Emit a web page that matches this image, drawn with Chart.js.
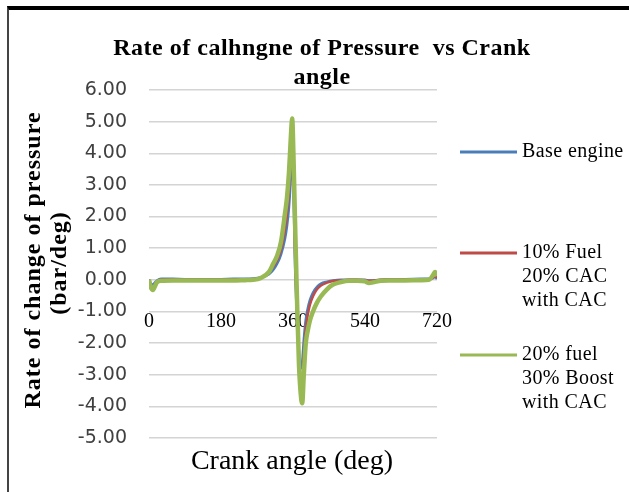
<!DOCTYPE html>
<html>
<head>
<meta charset="utf-8">
<script src="https://cdn.jsdelivr.net/npm/chart.js@4.4.0/dist/chart.umd.min.js"></script>
<style>
  body { margin: 0; background: #fff; }
  #wrap { position: relative; width: 629px; height: 492px; }
  #frame { position: absolute; left: 7px; top: 6px; right: 0; bottom: 0; border-top: 4px solid #000; border-left: 2px solid #444; pointer-events: none; }
</style>
</head>
<body>
<div id="wrap">
  <canvas id="pressureChart" width="629" height="492"></canvas>
  <div id="frame"></div>
</div>
<script>
// crank angle (deg) shared by all three series
const crankAngle = [0, 5, 10, 15, 20, 30, 60, 90, 120, 150, 180, 210, 240, 260, 280, 300, 310, 320, 330, 340,
  345, 350, 355, 358, 361, 365, 370, 375, 380, 383, 387, 392, 397, 402, 410, 420, 430, 445, 460, 480,
  500, 520, 540, 550, 560, 580, 600, 640, 680, 700, 710, 715, 720];

const baseEngine = [0.00, -0.12, -0.15, -0.08, -0.02, 0.03, 0.03, 0.02, 0.02, 0.02,
  0.02, 0.03, 0.03, 0.04, 0.08, 0.18, 0.30, 0.50, 0.80, 1.30,
  1.70, 2.30, 3.30, 4.00, 3.00, 0.50, -1.20, -2.30, -2.80, -2.60,
  -1.90, -1.25, -0.90, -0.65, -0.40, -0.22, -0.12, -0.06, -0.02, 0.00,
  0.00, 0.00, 0.00, -0.02, -0.02, 0.00, 0.02, 0.02, 0.03, 0.03,
  0.05, 0.10, 0.03];

const fuel10Cac20 = [0.00, -0.18, -0.25, -0.15, -0.05, 0.00, 0.01, 0.00, 0.00, 0.00,
  0.00, 0.01, 0.01, 0.02, 0.06, 0.22, 0.40, 0.62, 0.95, 1.60,
  2.10, 2.80, 3.80, 4.50, 3.40, 0.90, -1.00, -2.60, -3.25, -3.20,
  -2.40, -1.55, -1.10, -0.80, -0.52, -0.30, -0.18, -0.09, -0.04, -0.02,
  0.00, 0.00, -0.01, -0.03, -0.03, 0.00, 0.00, 0.01, 0.02, 0.02,
  0.06, 0.15, 0.06];

const fuel20Boost30 = [0.00, -0.25, -0.32, -0.20, -0.08, -0.03, -0.02, -0.02, -0.02, -0.02,
  -0.02, -0.02, -0.01, 0.00, 0.06, 0.25, 0.50, 0.75, 1.20, 2.10,
  2.60, 3.40, 4.60, 5.10, 4.00, 1.90, -0.60, -2.70, -3.70, -3.90,
  -3.00, -2.00, -1.60, -1.30, -1.00, -0.72, -0.52, -0.30, -0.15, -0.07,
  -0.03, -0.03, -0.05, -0.10, -0.08, -0.03, -0.02, -0.02, -0.01, 0.00,
  0.15, 0.25, 0.12];

const seriesNames = ['Base engine', '10% Fuel\n20% CAC\nwith CAC', '20% fuel\n30% Boost\nwith CAC'];
const seriesColors = ['#4a7ebb', '#be4b48', '#98b954'];

const toPoints = vals => crankAngle.map((a, i) => ({x: a, y: vals[i]}));

// titles + legend drawn straight on the canvas
const textPlugin = {
  id: 'excelText',
  afterDraw(chart) {
    const c = chart.ctx;
    c.save();
    c.fillStyle = '#000';
    c.textBaseline = 'middle';

    c.textAlign = 'center';
    c.letterSpacing = '0.5px';
    c.font = 'bold 24px "Liberation Serif"';
    c.fillText('Rate of calhngne of Pressure  vs Crank', 322, 49);
    c.fillText('angle', 322, 78);

    c.letterSpacing = '0px';
    c.font = '28px "Liberation Serif"';
    c.fillText('Crank angle (deg)', 292, 462);

    c.letterSpacing = '1px';
    c.font = 'bold 24px "Liberation Serif"';
    c.save();
    c.translate(34, 260);
    c.rotate(-Math.PI / 2);
    c.fillText('Rate of change of pressure', 0, 0);
    c.restore();
    c.save();
    c.translate(60, 263);
    c.rotate(-Math.PI / 2);
    c.fillText('(bar/deg)', 0, 0);
    c.restore();

    // legend
    const legendY = [152, 253, 355];
    c.textAlign = 'left';
    c.letterSpacing = '0.4px';
    c.font = '20px "Liberation Serif"';
    chart.data.datasets.forEach((ds, i) => {
      c.strokeStyle = ds.borderColor;
      c.lineWidth = 3;
      c.beginPath();
      c.moveTo(460, legendY[i]);
      c.lineTo(517, legendY[i]);
      c.stroke();
      ds.label.split('\n').forEach((line, j) => {
        c.fillText(line, 522, legendY[i] + j * 24);
      });
    });
    c.restore();
  }
};

new Chart(document.getElementById('pressureChart'), {
  type: 'line',
  data: {
    datasets: [{
      label: seriesNames[0],
      data: toPoints(baseEngine),
      borderColor: seriesColors[0],
      borderWidth: 2.5,
      order: 3
    }, {
      label: seriesNames[1],
      data: toPoints(fuel10Cac20),
      borderColor: seriesColors[1],
      borderWidth: 2.5,
      order: 2
    }, {
      label: seriesNames[2],
      data: toPoints(fuel20Boost30),
      borderColor: seriesColors[2],
      borderWidth: 4.5,
      order: 1
    }]
  },
  options: {
    responsive: false,
    animation: false,
    cubicInterpolationMode: 'monotone',
    elements: { point: { radius: 0 } },
    layout: { padding: { left: 0, top: 90, right: 192, bottom: 54 } },
    plugins: {
      legend: { display: false },
      title: { display: false },
      tooltip: { enabled: false }
    },
    scales: {
      x: {
        type: 'linear',
        position: { y: 0 },
        min: 0,
        max: 720,
        ticks: {
          stepSize: 180,
          maxRotation: 0,
          padding: 22,
          color: '#000',
          font: { family: 'Liberation Serif', size: 20 }
        },
        grid: { display: false },
        border: { display: false }
      },
      y: {
        min: -5,
        max: 6,
        ticks: {
          stepSize: 1,
          padding: 22,
          color: '#404040',
          font: { family: 'DejaVu Sans', size: 19 },
          callback: v => Number(v).toFixed(2)
        },
        grid: { color: '#d4d4d4', lineWidth: 1.5, drawTicks: false },
        border: { display: false },
        afterFit(scale) { scale.width = 149; }
      }
    }
  },
  plugins: [textPlugin]
});
</script>
</body>
</html>
